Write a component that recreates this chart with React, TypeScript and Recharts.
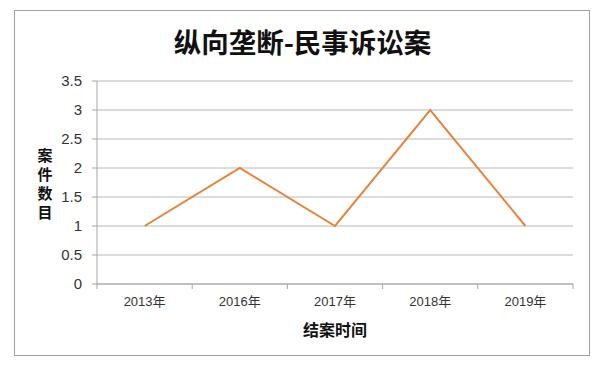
import { CartesianGrid, Label, Line, LineChart, XAxis, YAxis } from 'recharts';

const years = ['2013年', '2016年', '2017年', '2018年', '2019年'];
const caseCounts = [1, 2, 1, 3, 1];
const yTicks = [0, 0.5, 1, 1.5, 2, 2.5, 3, 3.5];

const data = years.map((year, i) => ({ year, count: caseCounts[i] }));

const FONT = '"Liberation Sans", "Noto Sans CJK SC", sans-serif';
const CJK = '"Noto Sans CJK SC", sans-serif';
const AXIS = '#a6a6a6';
const PLOT_W = 476;
const BAND = PLOT_W / years.length;

function YearTick(props: any) {
  const { x, y, payload, index, visibleTicksCount } = props;
  const left = x - BAND / 2;
  return (
    <g>
      <line x1={left} y1={y} x2={left} y2={y + 5} stroke={AXIS} />
      {index === visibleTicksCount - 1 && <line x1={x + BAND / 2} y1={y} x2={x + BAND / 2} y2={y + 5} stroke={AXIS} />}
      <text x={x} y={y + 22} textAnchor="middle" fontSize={13} fill="#333" fontFamily={FONT}>
        {payload.value}
      </text>
    </g>
  );
}

export default function App() {
  return (
    <div style={{ position: 'fixed', left: 0, top: 0, width: 599, height: 368, background: '#fff' }}>
      <div
        style={{
          position: 'absolute',
          left: 14,
          top: 10,
          width: 576,
          height: 346,
          border: '1px solid #a0a0a0',
          boxSizing: 'border-box'
        }}
      />
      <div
        style={{
          position: 'absolute',
          left: 3,
          top: 21,
          width: 599,
          textAlign: 'center',
          fontFamily: CJK,
          fontWeight: 700,
          fontSize: 27.5,
          lineHeight: '40px',
          color: '#111'
        }}
      >
        纵向垄断-民事诉讼案
      </div>
      <LineChart
        width={599}
        height={368}
        data={data}
        margin={{ top: 81, right: 26, bottom: 54, left: 57 }}
        style={{ position: 'absolute', left: 0, top: 0 }}
      >
        <CartesianGrid vertical={false} stroke="#b8b8b8" />
        <XAxis
          dataKey="year"
          height={30}
          padding={{ left: BAND / 2, right: BAND / 2 }}
          tickLine={false}
          tickSize={0}
          tickMargin={0}
          axisLine={{ stroke: AXIS }}
          tick={(p: any) => <YearTick {...p} />}
          interval={0}
        >
          <Label
            content={(p: any) => {
              const vb = p.viewBox;
              return (
                <text x={vb.x + vb.width / 2} y={vb.y + 52} textAnchor="middle" fontSize={16} fontWeight={700} fill="#111" fontFamily={CJK}>
                  结案时间
                </text>
              );
            }}
          />
        </XAxis>
        <YAxis
          width={40}
          domain={[0, 3.5]}
          ticks={yTicks}
          interval={0}
          tickSize={5}
          tickMargin={10}
          tickLine={{ stroke: AXIS }}
          axisLine={{ stroke: AXIS }}
          tick={{ fill: '#333', fontSize: 15, fontFamily: FONT }}
        >
          <Label
            content={() => (
              <text x={45} y={161} textAnchor="middle" fontSize={15} fontWeight={700} fill="#111" fontFamily={CJK}>
                {['案', '件', '数', '目'].map((ch, i) => (
                  <tspan key={ch} x={45} dy={i === 0 ? 0 : 19}>
                    {ch}
                  </tspan>
                ))}
              </text>
            )}
          />
        </YAxis>
        <Line
          type="linear"
          dataKey="count"
          stroke="#e8823a"
          strokeWidth={2}
          dot={false}
          isAnimationActive={false}
        />
      </LineChart>
    </div>
  );
}
